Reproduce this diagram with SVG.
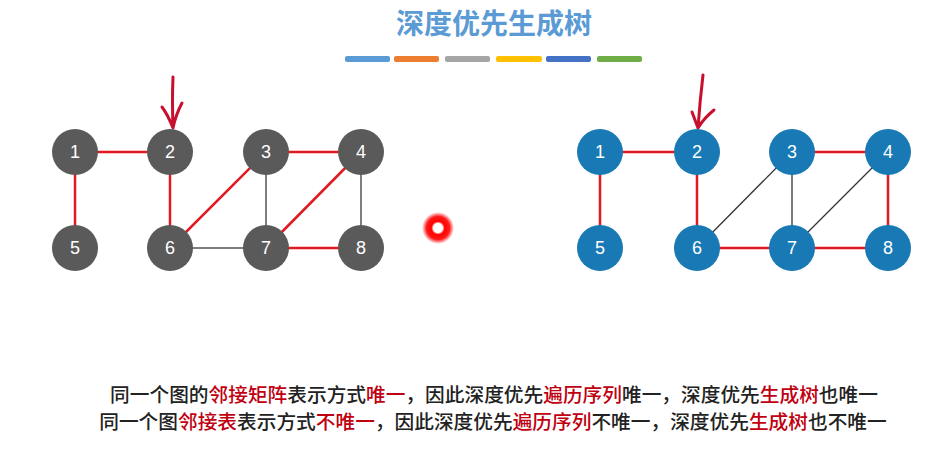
<svg xmlns="http://www.w3.org/2000/svg" width="945" height="472" viewBox="0 0 945 472">
<defs>
<style>
.title{font-family:"Noto Sans CJK SC","Noto Sans",sans-serif;font-size:28px;font-weight:bold;fill:#5b9bd5;text-anchor:middle}
.lbl{font-family:"Liberation Sans",Arial,sans-serif;font-size:18px;fill:#fff;text-anchor:middle;dominant-baseline:central}
.gn{fill:#5a5a5a}
.bn{fill:#1979b4}
.red{stroke:#e01a22;stroke-width:2.5;fill:none}
.gray{stroke:#555;stroke-width:1.5;fill:none}
.blk{stroke:#333;stroke-width:1.3;fill:none}
.arrow{stroke:#c8102e;stroke-width:3;fill:none;stroke-linecap:round;stroke-linejoin:round}
.txt{font-family:"Noto Sans CJK SC","Noto Sans",sans-serif;font-size:19.7px;font-weight:500;fill:#222;text-anchor:middle}
.hl{fill:#c00010}
</style>
<radialGradient id="dot" cx="0.5" cy="0.5" r="0.5">
<stop offset="0" stop-color="#fff"/>
<stop offset="0.28" stop-color="#fff"/>
<stop offset="0.42" stop-color="#f00"/>
<stop offset="0.72" stop-color="#f00" stop-opacity="0.9"/>
<stop offset="1" stop-color="#f00" stop-opacity="0"/>
</radialGradient>
</defs>
<rect width="945" height="472" fill="#fff"/>
<text class="title" x="494" y="34">深度优先生成树</text>
<g id="bars">
<rect x="345" y="56" width="45" height="6" rx="2" fill="#5b9bd5"/>
<rect x="394" y="56" width="45" height="6" rx="2" fill="#ed7d31"/>
<rect x="445" y="56" width="45" height="6" rx="2" fill="#a5a5a5"/>
<rect x="496" y="56" width="46" height="6" rx="2" fill="#ffc000"/>
<rect x="546" y="56" width="45" height="6" rx="2" fill="#4472c4"/>
<rect x="597" y="56" width="45" height="6" rx="2" fill="#70ad47"/>
</g>
<g id="connectors">
<line class="red" x1="75" y1="152" x2="170" y2="152"/>
<line class="red" x1="75" y1="152" x2="75" y2="248"/>
<line class="red" x1="170" y1="152" x2="170" y2="248"/>
<line class="red" x1="170" y1="248" x2="266" y2="152"/>
<line class="red" x1="266" y1="152" x2="361" y2="152"/>
<line class="red" x1="361" y1="152" x2="266" y2="248"/>
<line class="red" x1="266" y1="248" x2="361" y2="248"/>
<line class="gray" x1="266" y1="152" x2="266" y2="248"/>
<line class="gray" x1="361" y1="152" x2="361" y2="248"/>
<line class="gray" x1="170" y1="248" x2="266" y2="248"/>
<line class="red" x1="600" y1="152" x2="697" y2="152"/>
<line class="red" x1="600" y1="152" x2="600" y2="248"/>
<line class="red" x1="697" y1="152" x2="697" y2="248"/>
<line class="red" x1="697" y1="248" x2="792" y2="248"/>
<line class="red" x1="792" y1="248" x2="888" y2="248"/>
<line class="red" x1="792" y1="152" x2="888" y2="152"/>
<line class="red" x1="888" y1="152" x2="888" y2="248"/>
<line class="blk" x1="697" y1="248" x2="792" y2="152"/>
<line class="blk" x1="792" y1="152" x2="792" y2="248"/>
<line class="blk" x1="888" y1="152" x2="792" y2="248"/>
<path class="arrow" d="M173 77 Q172 100 173 128 M162 107 Q168 115 173 128 Q176 114 182 103"/>
<path class="arrow" d="M703 75 Q700 100 698 128 M692 112 Q695 120 698 128 Q704 118 714 110"/>
</g>
<g id="L1"><circle class="gn" cx="75" cy="152" r="23"/><text class="lbl" x="75" y="152">1</text></g>
<g id="L2"><circle class="gn" cx="170" cy="152" r="23"/><text class="lbl" x="170" y="152">2</text></g>
<g id="L3"><circle class="gn" cx="266" cy="152" r="23"/><text class="lbl" x="266" y="152">3</text></g>
<g id="L4"><circle class="gn" cx="361" cy="152" r="23"/><text class="lbl" x="361" y="152">4</text></g>
<g id="L5"><circle class="gn" cx="75" cy="248" r="23"/><text class="lbl" x="75" y="248">5</text></g>
<g id="L6"><circle class="gn" cx="170" cy="248" r="23"/><text class="lbl" x="170" y="248">6</text></g>
<g id="L7"><circle class="gn" cx="266" cy="248" r="23"/><text class="lbl" x="266" y="248">7</text></g>
<g id="L8"><circle class="gn" cx="361" cy="248" r="23"/><text class="lbl" x="361" y="248">8</text></g>
<g id="R1"><circle class="bn" cx="600" cy="152" r="23"/><text class="lbl" x="600" y="152">1</text></g>
<g id="R2"><circle class="bn" cx="697" cy="152" r="23"/><text class="lbl" x="697" y="152">2</text></g>
<g id="R3"><circle class="bn" cx="792" cy="152" r="23"/><text class="lbl" x="792" y="152">3</text></g>
<g id="R4"><circle class="bn" cx="888" cy="152" r="23"/><text class="lbl" x="888" y="152">4</text></g>
<g id="R5"><circle class="bn" cx="600" cy="248" r="23"/><text class="lbl" x="600" y="248">5</text></g>
<g id="R6"><circle class="bn" cx="697" cy="248" r="23"/><text class="lbl" x="697" y="248">6</text></g>
<g id="R7"><circle class="bn" cx="792" cy="248" r="23"/><text class="lbl" x="792" y="248">7</text></g>
<g id="R8"><circle class="bn" cx="888" cy="248" r="23"/><text class="lbl" x="888" y="248">8</text></g>
<circle cx="438" cy="228" r="16" fill="url(#dot)"/>
<text class="txt" x="494" y="402">同一个图的<tspan class="hl">邻接矩阵</tspan>表示方式<tspan class="hl">唯一</tspan>，因此深度优先<tspan class="hl">遍历序列</tspan>唯一，深度优先<tspan class="hl">生成树</tspan>也唯一</text>
<text class="txt" x="493" y="429">同一个图<tspan class="hl">邻接表</tspan>表示方式<tspan class="hl">不唯一</tspan>，因此深度优先<tspan class="hl">遍历序列</tspan>不唯一，深度优先<tspan class="hl">生成树</tspan>也不唯一</text>
</svg>
